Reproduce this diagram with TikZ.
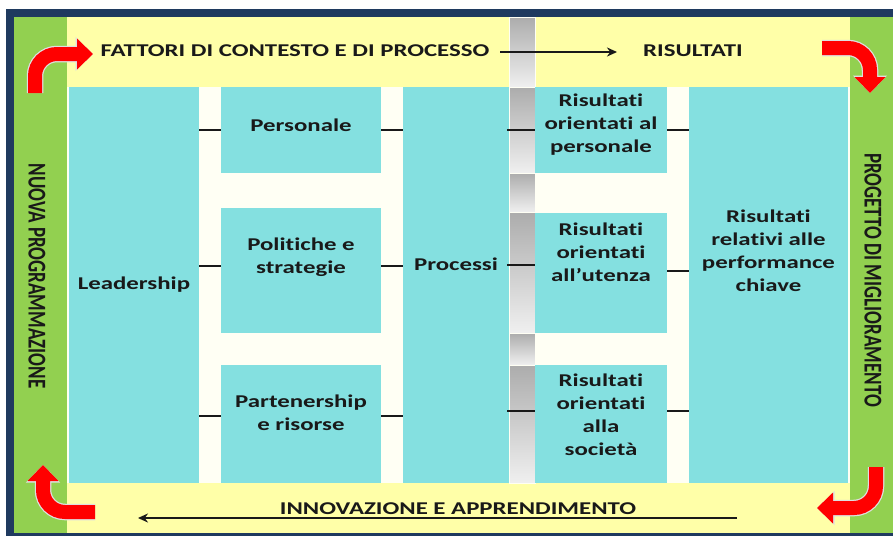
\documentclass[tikz,border=0pt]{standalone}
\usepackage{fontspec}
\setmainfont{Carlito}[Ligatures=NoCommon]
\newfontfamily\widefont[FakeStretch=1.38, Ligatures=NoCommon]{Carlito}
\usetikzlibrary{arrows.meta}
\definecolor{navy}{HTML}{1F3A5F}
\definecolor{leaf}{HTML}{92D050}
\definecolor{cream}{HTML}{FFFFF4}
\definecolor{pale}{HTML}{FFFFA8}
\definecolor{aqua}{HTML}{84E0E0}
\tikzset{box/.style={rectangle, fill=aqua, draw=none, inner sep=0pt}}
\tikzset{txt/.style={align=center, font=\widefont\bfseries\fontsize{18}{23}\selectfont, text=black!90}}
\tikzset{side/.style={font=\bfseries\fontsize{19}{20}\selectfont, rotate=-90, text=black!90}}
\tikzset{link/.style={line width=2pt, black!90}}
\tikzset{barseg/.style={top color=gray!65, bottom color=gray!12, draw=cream, line width=0.8pt}}
\tikzset{turn/.style={red, line width=14pt, rounded corners=22pt,
   -{Triangle[length=16pt, width=30pt]},
   preaction={draw=gray!25, line width=16.5pt, -{Triangle[length=17.5pt, width=33pt]}}}}

\begin{document}
\begin{tikzpicture}[x=1pt, y=-1pt]
    \useasboundingbox (0,0) rectangle (893,536);

    % frame and bands
    \fill[white] (0,0) rectangle (893,536);
    \fill[navy] (6,9) rectangle (893,536);
    \fill[leaf] (14,17) rectangle (893,533);
    \fill[pale] (67,17) rectangle (850,533);
    \fill[cream] (67,87) rectangle (850,483);

    % grey bar
    \foreach \ya/\yb in {17/87, 87/173, 173/212, 212/333, 333/365, 365/483}
      \shade[barseg] (509,\ya) rectangle (535,\yb);

    % boxes
    \node[box, minimum width=130pt, minimum height=396pt, label={[txt]center:Leadership}] (lead) at (134,285) {};

    \node[box, minimum width=160pt, minimum height=86pt, label={[txt, yshift=5pt]center:Personale}] (pers) at (301,130) {};
    \node[box, minimum width=160pt, minimum height=125pt, label={[txt, yshift=13pt]center:Politiche e\\strategie}] (pol) at (301,270.5) {};
    \node[box, minimum width=160pt, minimum height=118pt, label={[txt, yshift=11pt]center:Partenership\\e risorse}] (part) at (301,424) {};

    \node[box, minimum width=106pt, minimum height=396pt, label={[txt, yshift=21pt]center:Processi}] (proc) at (456,285) {};

    \node[box, minimum width=132pt, minimum height=86pt, label={[txt, yshift=5pt]center:Risultati\\orientati al\\personale}] (ris1) at (601,130) {};
    \node[box, minimum width=132pt, minimum height=120pt, label={[txt, yshift=21pt]center:Risultati\\orientati\\all’utenza}] (ris2) at (601,273) {};
    \node[box, minimum width=132pt, minimum height=118pt, label={[txt, yshift=9pt]center:Risultati\\orientati\\alla\\società}] (ris3) at (601,424) {};

    \node[box, minimum width=159pt, minimum height=396pt, label={[txt, yshift=34pt]center:Risultati\\relativi alle\\performance\\chiave}] (perf) at (768.5,285) {};

    % short links
    \draw[link] (pers.west) -- (pers.west -| lead.east);
    \draw[link] ([yshift=5pt]pol.west) -- ([yshift=5pt]pol.west -| lead.east);
    \draw[link] ([yshift=8pt]part.west) -- ([yshift=8pt]part.west -| lead.east);
    \draw[link] (pers.east) -- (pers.east -| proc.west);
    \draw[link] ([yshift=5pt]pol.east) -- ([yshift=5pt]pol.east -| proc.west);
    \draw[link] ([yshift=8pt]part.east) -- ([yshift=8pt]part.east -| proc.west);
    \draw[link] (ris1.west) -- ([xshift=-2pt]ris1.west -| proc.east);
    \draw[link] ([yshift=8pt]ris2.west) -- ([xshift=-2pt,yshift=8pt]ris2.west -| proc.east);
    \draw[link] ([yshift=13pt]ris3.west) -- ([xshift=-2pt,yshift=13pt]ris3.west -| proc.east);
    \draw[link] (ris1.east) -- (ris1.east -| perf.west);
    \draw[link] ([yshift=2pt]ris2.east) -- ([yshift=2pt]ris2.east -| perf.west);
    \draw[link] ([yshift=13pt]ris3.east) -- ([yshift=13pt]ris3.east -| perf.west);

    % band texts
    \node[txt] (fattori) at (295,51) {FATTORI DI CONTESTO E DI PROCESSO};
    \node[txt] (risultati) at (693,51) {RISULTATI};
    \coordinate (f0) at (500,52);
    \coordinate (f1) at (617,52);
    \draw[link, -{Stealth[length=10pt, width=9pt]}] (f0) -- (f1);

    \node[txt] (innov) at (458,509) {INNOVAZIONE E APPRENDIMENTO};
    \coordinate (i0) at (737,518);
    \coordinate (i1) at (138,518);
    \draw[link, -{Stealth[length=10pt, width=9pt]}] (i0) -- (i1);

    \node[side] (nuova) at (37,276) {\scalebox{1}[1.35]{NUOVA PROGRAMMAZIONE}};
    \node[side] (progetto) at (873,280) {\scalebox{1}[1.35]{PROGETTO DI MIGLIORAMENTO}};

    % red turning arrows
    \draw[turn] (35,93) -- (35,54) -- (93,54);
    \draw[turn] (822,48) -- (870,48) -- (870,93);
    \draw[turn] (876,467) -- (876,508) -- (817,508);
    \draw[turn] (95,512) -- (43,512) -- (43,465);

  \end{tikzpicture}
\end{document}
